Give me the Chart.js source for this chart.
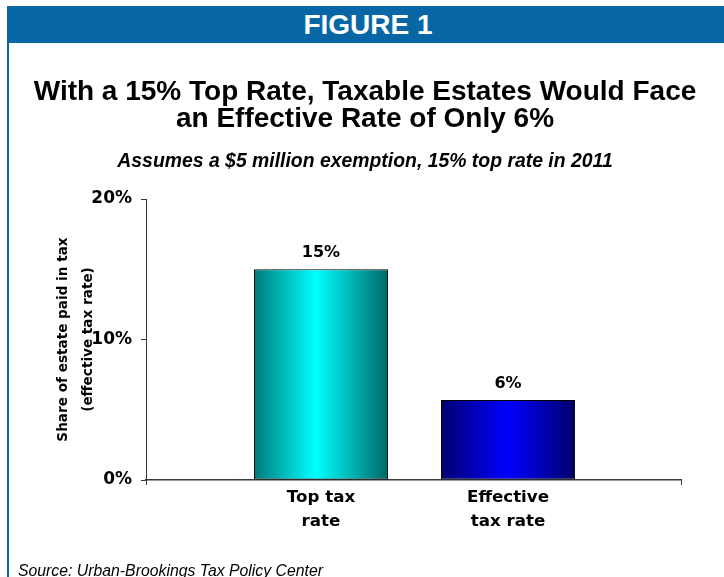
<!DOCTYPE html>
<html><head><meta charset="utf-8">
<script src="https://cdn.jsdelivr.net/npm/chart.js@4.4.1/dist/chart.umd.min.js"></script>
<style>
html,body{margin:0;padding:0;background:#fff;}
body{width:724px;height:577px;position:relative;overflow:hidden;font-family:"Liberation Sans",Arial,sans-serif;color:#000;}
#wrap{position:absolute;left:0;top:0;width:724px;height:577px;}
.band{position:absolute;left:7px;top:6px;width:712px;padding-left:5px;height:37px;background:#0866a6;color:#fff;font-weight:bold;font-size:28px;line-height:38px;text-align:center;z-index:2;}
.vline{position:absolute;left:7px;top:6px;width:2px;height:571px;background:#0866a6;z-index:2;}
.title{position:absolute;left:0;width:730px;top:77px;text-align:center;font-weight:bold;font-size:28px;line-height:27px;z-index:2;}
.sub{position:absolute;left:0;width:730px;top:149px;text-align:center;font-weight:bold;font-style:italic;font-size:19.4px;line-height:22px;z-index:2;}
.src{position:absolute;left:18px;top:562px;font-style:italic;font-size:15.8px;line-height:18px;z-index:2;}
</style>
</head><body>
<div class="vline"></div>
<div class="band">FIGURE 1</div>
<div class="title">With a 15% Top Rate, Taxable Estates Would Face<br>an Effective Rate of Only 6%</div>
<div class="sub">Assumes a $5 million exemption, 15% top rate in 2011</div>
<div class="src">Source: Urban-Brookings Tax Policy Center</div>
<div id="wrap"><canvas id="c" width="724" height="577"></canvas></div>
<script>
// ---- data ----
const categories = [['Top tax', 'rate'], ['Effective', 'tax rate']];
const values = [15, 5.7];
const yTickValues = [0, 10, 20];
const yTitle = ['Share of estate paid in tax', '(effective tax rate)'];

// ---- styles ----
const edgeColors = [['#007a7a', '#006868'], ['#000070', '#000068']];
const midColors = ['#00ffff', '#0000ff'];
const midStops = [0.46, 0.5];
const barPct = 0.717;
const axisColor = '#3a3a3a';
const FONT = '"DejaVu Sans", "Liberation Sans", Arial, sans-serif';

Chart.defaults.font.family = FONT;
Chart.defaults.color = '#000';

function barGradient(c) {
  const chart = c.chart;
  const xs = chart.scales.x;
  const i = c.dataIndex;
  if (!xs || i == null) return midColors[0];
  const unit = xs.getPixelForValue(1) - xs.getPixelForValue(0);
  const w = unit * barPct;
  const cx = xs.getPixelForValue(i);
  if (!isFinite(unit) || !isFinite(cx) || w <= 0) return midColors[i] || midColors[0];
  const g = chart.ctx.createLinearGradient(cx - w / 2, 0, cx + w / 2, 0);
  g.addColorStop(0, edgeColors[i][0]);
  g.addColorStop(midStops[i], midColors[i]);
  g.addColorStop(1, edgeColors[i][1]);
  return g;
}

const valueLabels = {
  id: 'valueLabels',
  afterDatasetsDraw(chart) {
    const ctx = chart.ctx;
    const meta = chart.getDatasetMeta(0);
    ctx.save();
    ctx.font = 'bold 16px ' + FONT;
    ctx.fillStyle = '#000';
    ctx.textAlign = 'center';
    ctx.textBaseline = 'alphabetic';
    meta.data.forEach((el, i) => {
      ctx.fillText(Math.round(values[i]) + '%', el.x, el.y - 12);
    });
    ctx.restore();
  }
};

const endTicks = {
  id: 'endTicks',
  afterDraw(chart) {
    const {ctx, chartArea} = chart;
    ctx.save();
    ctx.strokeStyle = axisColor;
    ctx.lineWidth = 1;
    ctx.beginPath();
    [chartArea.left, chartArea.right].forEach(x => {
      ctx.moveTo(Math.round(x) + 0.5, chartArea.bottom);
      ctx.lineTo(Math.round(x) + 0.5, chartArea.bottom + 5);
    });
    ctx.stroke();
    ctx.restore();
  }
};

new Chart(document.getElementById('c'), {
  type: 'bar',
  data: {
    datasets: [{
      data: values.map((v, i) => ({x: i, y: v})),
      backgroundColor: barGradient,
      borderColor: '#000',
      borderWidth: 1,
      borderSkipped: false,
      barPercentage: barPct,
      categoryPercentage: 1
    }]
  },
  plugins: [valueLabels, endTicks],
  options: {
    responsive: false,
    animation: false,
    layout: {padding: {left: 0, top: 199, right: 43, bottom: 37}},
    plugins: {legend: {display: false}, tooltip: {enabled: false}, title: {display: false}},
    scales: {
      x: {
        type: 'linear',
        offset: false,
        min: -0.9358,
        max: 1.925,
        afterBuildTicks: s => { s.ticks = categories.map((c, i) => ({value: i})); },
        afterFit: s => { s.height = 60; },
        grid: {display: false, drawTicks: false, offset: false},
        border: {display: true, color: axisColor, width: 1.5},
        ticks: {
          autoSkip: false,
          maxRotation: 0,
          padding: 6,
          font: {size: 16.7, weight: 'bold', lineHeight: 1.44},
          color: '#000',
          callback: v => categories[v]
        }
      },
      y: {
        min: 0,
        max: 20,
        afterBuildTicks: s => { s.ticks = yTickValues.map(v => ({value: v})); },
        afterFit: s => { s.width = 146; },
        grid: {drawOnChartArea: false, tickLength: 5, color: axisColor},
        border: {display: true, color: axisColor, width: 1},
        ticks: {
          padding: 9,
          font: {size: 17, weight: 'bold'},
          color: '#000',
          callback: v => v + '%'
        },
        title: {
          display: true,
          text: yTitle,
          font: {size: 13.6, weight: 'bold', lineHeight: 1.84},
          color: '#000',
          padding: {top: 50.5, bottom: 0}
        }
      }
    }
  }
});
</script>
</body></html>
